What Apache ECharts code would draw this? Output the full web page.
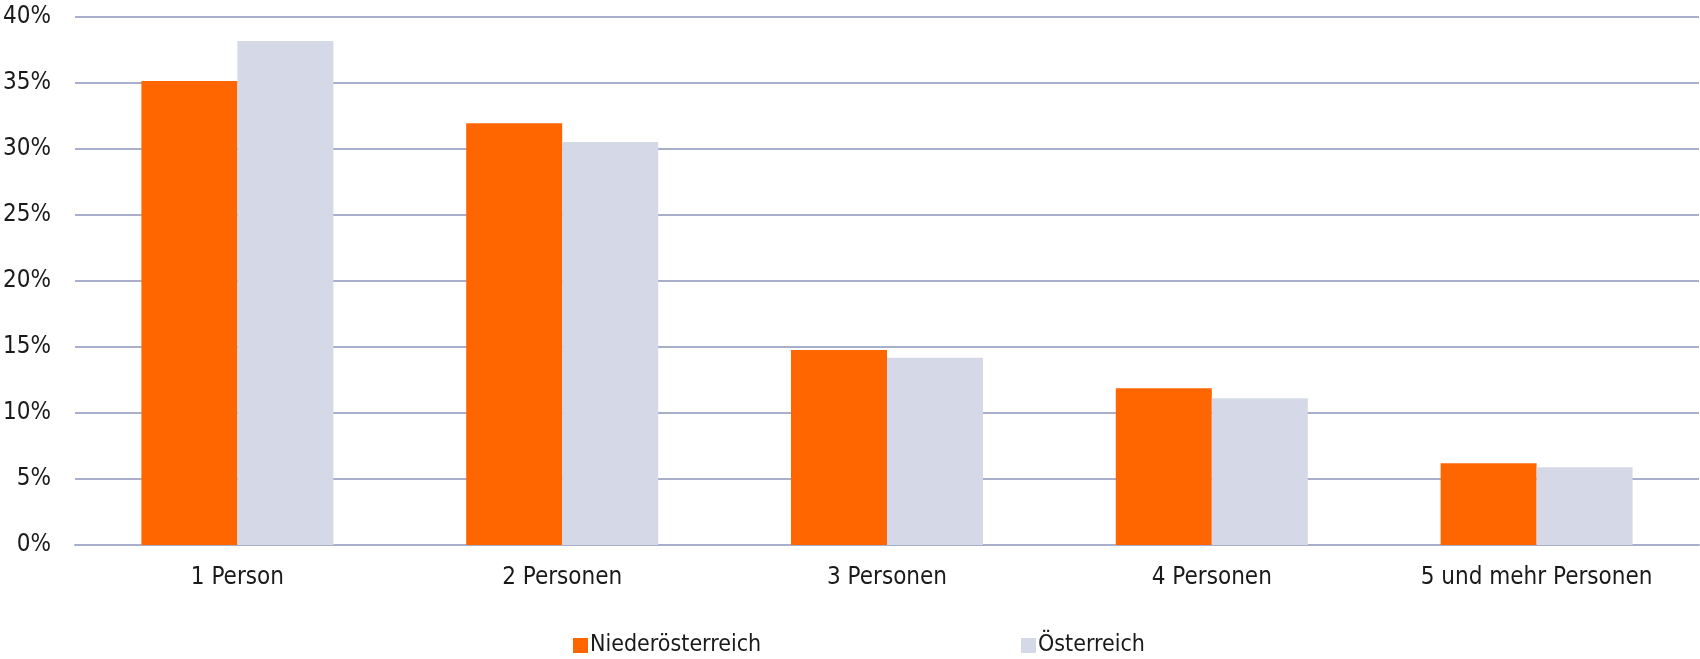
<!DOCTYPE html>
<html>
<head>
<meta charset="utf-8">
<script src="https://cdn.jsdelivr.net/npm/echarts@6/dist/echarts.min.js"></script>
<style>
html,body{margin:0;padding:0;background:#fff;}
#chart{width:1700px;height:659px;}
</style>
</head>
<body>
<div id="chart"></div>
<script>
var categories = ['1 Person', '2 Personen', '3 Personen', '4 Personen', '5 und mehr Personen'];
var niederoesterreich = [35.15, 31.95, 14.78, 11.88, 6.19];
var oesterreich = [38.18, 30.53, 14.18, 11.12, 5.89];
var seriesNames = ['Niederösterreich', 'Österreich'];
var yTicks = [0, 5, 10, 15, 20, 25, 30, 35, 40];

var FONT = '"Liberation Sans Narrow", "DejaVu Sans Condensed", "Liberation Sans", sans-serif';
var chart = echarts.init(document.getElementById('chart'));
chart.setOption({
  animation: false,
  textStyle: { fontFamily: FONT },
  grid: { left: 73, right: 1, top: 17, bottom: 114, containLabel: false },
  legend: [
    { data: [seriesNames[0]], left: 568, top: 629, itemWidth: 15, itemHeight: 15, itemGap: 0,
      icon: 'rect', textStyle: { fontFamily: FONT, fontSize: 23, color: '#1a1a1a', padding: [0,0,0,-3] } },
    { data: [seriesNames[1]], left: 1016, top: 629, itemWidth: 15, itemHeight: 15, itemGap: 0,
      icon: 'rect', textStyle: { fontFamily: FONT, fontSize: 23, color: '#1a1a1a', padding: [0,0,0,-3] } }
  ],
  xAxis: {
    type: 'category',
    data: categories,
    axisLine: { show: true, lineStyle: { color: '#A9AFCB', width: 2 } },
    axisTick: { show: false },
    axisLabel: { fontFamily: FONT, fontSize: 24, color: '#1a1a1a', margin: 21 }
  },
  yAxis: {
    type: 'value',
    min: yTicks[0],
    max: yTicks[yTicks.length - 1],
    interval: 5,
    axisLine: { show: false },
    axisTick: { show: false },
    splitLine: { lineStyle: { color: '#A9AFCB', width: 2 } },
    axisLabel: { fontFamily: FONT, fontSize: 24, color: '#1a1a1a', margin: 24,
      formatter: function (v) { return v + '%'; } }
  },
  series: [
    { name: seriesNames[0], type: 'bar', data: niederoesterreich, barWidth: 96, barGap: '0%',
      itemStyle: { color: '#FF6600' } },
    { name: seriesNames[1], type: 'bar', data: oesterreich, barWidth: 96, barGap: '0%',
      itemStyle: { color: '#D5D8E6' } }
  ]
});
</script>
</body>
</html>
